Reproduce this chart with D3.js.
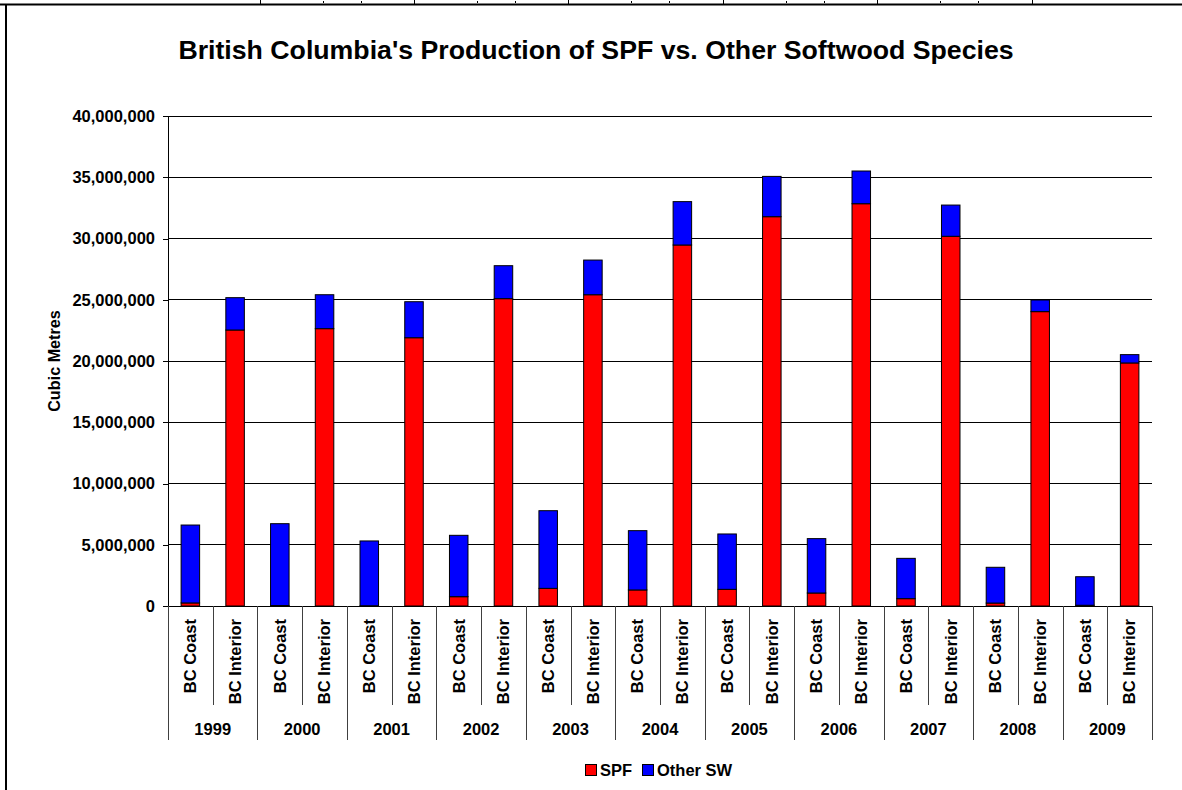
<!DOCTYPE html>
<meta charset="utf-8">
<style>
body { margin: 0; background: #fff; }
text { font-family: "Liberation Sans", Arial, sans-serif; font-weight: bold; fill: #000; }
.grid line { stroke: #000; stroke-width: 1px; shape-rendering: crispEdges; }
.sep { stroke: #404040; stroke-width: 1px; shape-rendering: crispEdges; }
.bar { stroke: #000; stroke-width: 1px; }
</style>
<body>
<script src="https://d3js.org/d3.v7.min.js"></script>
<script>

// data (cubic metres)
var years = ["1999", "2000", "2001", "2002", "2003", "2004", "2005", "2006", "2007", "2008", "2009"];
var regions = ["BC Coast", "BC Interior"];
var seriesNames = ["SPF", "Other SW"];
var seriesColors = ["#ff0000", "#0000ff"];

var coastSPF   = [250000, 40000, 20000, 760000, 1440000, 1310000, 1360000, 1060000, 600000, 240000, 60000];
var coastOther = [6360000, 6680000, 5290000, 5010000, 6340000, 4840000, 4520000, 4440000, 3290000, 2920000, 2330000];
var interiorSPF   = [22530000, 22640000, 21900000, 25090000, 25410000, 29470000, 31780000, 32840000, 30180000, 24030000, 19840000];
var interiorOther = [2640000, 2770000, 2940000, 2690000, 2830000, 3540000, 3290000, 2670000, 2550000, 950000, 680000];

var yTicks = [0, 5000000, 10000000, 15000000, 20000000, 25000000, 30000000, 35000000, 40000000];

// build rows, one per bar
var rows = [];
years.forEach(function(yr, i) {
  rows.push({ key: yr + "|" + regions[0], year: yr, region: regions[0], spf: coastSPF[i], other: coastOther[i] });
  rows.push({ key: yr + "|" + regions[1], year: yr, region: regions[1], spf: interiorSPF[i], other: interiorOther[i] });
});

var width = 1182, height = 790;
var plot = { left: 168, right: 1152, top: 116, bottom: 606 };

var svg = d3.select("body").append("svg")
  .attr("width", width)
  .attr("height", height);

// spreadsheet cells peeking in at the top
var cellEdges = [260, 414, 568, 723, 877, 1032];
svg.selectAll("line.cell")
  .data(cellEdges)
  .enter().append("line")
  .attr("class", "sep")
  .style("stroke", "#000")
  .attr("x1", function(d) { return d + 0.5; })
  .attr("x2", function(d) { return d + 0.5; })
  .attr("y1", 0).attr("y2", 4);
svg.selectAll("line.crumb")
  .data(cellEdges.slice(0, 5).reduce(function(a, d) { return a.concat([d + 63, d + 101]); }, []))
  .enter().append("line")
  .style("stroke", "#000")
  .attr("x1", function(d) { return d + 0.5; })
  .attr("x2", function(d) { return d + 0.5; })
  .attr("y1", 1).attr("y2", 3);

// chart border (top and left)
svg.append("line").attr("x1", 0).attr("x2", width).attr("y1", 4.5).attr("y2", 4.5)
  .style("stroke", "#000").style("stroke-width", 2);
svg.append("line").attr("x1", 6).attr("x2", 6).attr("y1", 4).attr("y2", height)
  .style("stroke", "#000").style("stroke-width", 2);

// title
svg.append("text")
  .attr("x", 596)
  .attr("y", 59)
  .attr("text-anchor", "middle")
  .style("font-size", "26.7px")
  .text("British Columbia's Production of SPF vs. Other Softwood Species");

// scales
var x = d3.scaleBand()
  .domain(rows.map(function(d) { return d.key; }))
  .range([plot.left, plot.right])
  .paddingInner(0.586)
  .paddingOuter(0.293);

var y = d3.scaleLinear()
  .domain([0, 40000000])
  .range([plot.bottom, plot.top]);

// gridlines
svg.append("g")
  .attr("class", "grid")
  .selectAll("line")
  .data(yTicks.slice(1))
  .enter().append("line")
  .attr("x1", plot.left).attr("x2", plot.right)
  .attr("y1", function(d) { return y(d); })
  .attr("y2", function(d) { return y(d); });

// y axis
var yAxis = svg.append("g")
  .attr("transform", "translate(" + plot.left + ",0)")
  .call(d3.axisLeft(y).tickValues(yTicks).tickFormat(d3.format(",")).tickSize(5).tickPadding(8));
yAxis.select(".domain").attr("stroke", "#000").style("shape-rendering", "crispEdges");
yAxis.selectAll(".tick line").attr("stroke", "#000").style("shape-rendering", "crispEdges");
yAxis.selectAll("text")
  .style("font-size", "16.5px")
  .style("font-family", "'Liberation Sans', Arial, sans-serif")
  .style("font-weight", "bold")
  .attr("fill", "#000");

svg.append("text")
  .attr("transform", "translate(60," + ((plot.top + plot.bottom) / 2) + ") rotate(-90)")
  .attr("text-anchor", "middle")
  .style("font-size", "16.2px")
  .text("Cubic Metres");

// stacked bars
var stack = d3.stack().keys(["spf", "other"]);
var layers = stack(rows);

svg.selectAll("g.layer")
  .data(layers)
  .enter().append("g")
  .attr("class", "layer")
  .style("fill", function(d, i) { return seriesColors[i]; })
  .selectAll("rect")
  .data(function(d) { return d; })
  .enter().append("rect")
  .attr("class", "bar")
  .attr("x", function(d) { return x(d.data.key); })
  .attr("width", x.bandwidth())
  .attr("y", function(d) { return y(d[1]); })
  .attr("height", function(d) { return y(d[0]) - y(d[1]); });

// category axis: baseline, separators, labels
svg.append("line")
  .attr("x1", plot.left).attr("x2", plot.right)
  .attr("y1", plot.bottom).attr("y2", plot.bottom)
  .style("stroke", "#000").style("shape-rendering", "crispEdges");

var step = x.step();
var seps = d3.range(rows.length + 1);
svg.selectAll("line.catsep")
  .data(seps)
  .enter().append("line")
  .attr("class", "sep")
  .attr("x1", function(i) { return Math.round(plot.left + i * step) + 0.5; })
  .attr("x2", function(i) { return Math.round(plot.left + i * step) + 0.5; })
  .attr("y1", plot.bottom)
  .attr("y2", function(i) { return i % 2 === 0 ? 740 : 705; });

svg.selectAll("text.cat")
  .data(rows)
  .enter().append("text")
  .attr("class", "cat")
  .attr("transform", function(d) {
    return "translate(" + (x(d.key) + x.bandwidth() / 2) + ",619) rotate(-90)";
  })
  .attr("text-anchor", "end")
  .attr("dy", "0.35em")
  .style("font-size", "16.5px")
  .text(function(d) { return d.region; });

svg.selectAll("text.year")
  .data(years)
  .enter().append("text")
  .attr("class", "year")
  .attr("x", function(d, i) { return plot.left + (i * 2 + 1) * step; })
  .attr("y", 735)
  .attr("text-anchor", "middle")
  .style("font-size", "16.5px")
  .text(function(d) { return d; });

// legend
var legendX = [585, 642];
var legend = svg.selectAll("g.legend")
  .data(seriesNames)
  .enter().append("g")
  .attr("class", "legend")
  .attr("transform", function(d, i) { return "translate(" + legendX[i] + ",764)"; });
legend.append("rect")
  .attr("width", 11).attr("height", 11)
  .attr("x", 0.5).attr("y", 0.5)
  .style("fill", function(d, i) { return seriesColors[i]; })
  .style("stroke", "#000");
legend.append("text")
  .attr("x", 15)
  .attr("y", 12)
  .style("font-size", "16.5px")
  .text(function(d) { return d; });

</script>
</body>
